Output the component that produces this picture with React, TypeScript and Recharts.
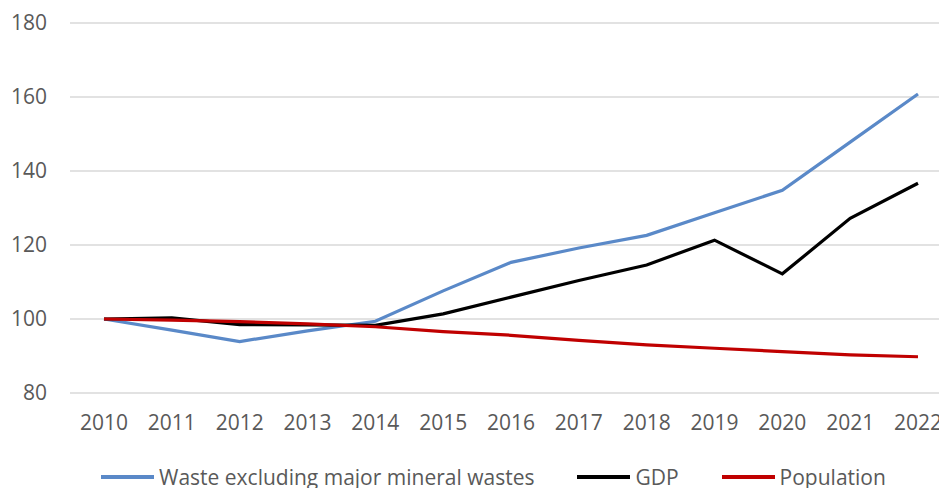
import React from 'react';
import { LineChart, Line, XAxis, YAxis, CartesianGrid } from 'recharts';

const years = ['2010', '2011', '2012', '2013', '2014', '2015', '2016', '2017', '2018', '2019', '2020', '2021', '2022'];
const waste = [100, 97, 93.9, 96.8, 99.4, 107.6, 115.3, 119.2, 122.6, 128.7, 134.8, 147.8, 160.8];
const gdp = [100, 100.3, 98.5, 98.4, 98.3, 101.4, 105.9, 110.4, 114.6, 121.3, 112.2, 127.2, 136.7];
const population = [100, 99.7, 99.3, 98.7, 97.9, 96.6, 95.6, 94.2, 93.0, 92.1, 91.2, 90.3, 89.8];
const yTicks = [80, 100, 120, 140, 160, 180];

const seriesNames = ['Waste excluding major mineral wastes', 'GDP', 'Population'];
const seriesColors = ['#5a89c8', '#000000', '#c00000'];

const data = years.map((year, i) => ({
  year,
  waste: waste[i],
  gdp: gdp[i],
  population: population[i],
}));

const keys = ['waste', 'gdp', 'population'];
const font = '"Open Sans", sans-serif';

export default function App() {
  return (
    <div
      style={{
        position: 'fixed',
        left: 0,
        top: 0,
        width: 939,
        height: 488,
        overflow: 'hidden',
        background: '#fff',
        fontFamily: font,
      }}
    >
      <LineChart width={960} height={488} data={data} margin={{ top: 23, right: 8, bottom: 65, left: 0 }}>
        <CartesianGrid vertical={false} stroke="#d9d9d9" strokeWidth={1.5} />
        <XAxis
          dataKey="year"
          axisLine={false}
          tickLine={false}
          height={30}
          tickMargin={16}
          padding={{ left: 34, right: 34 }}
          tick={{ fill: '#595959', fontSize: 21, fontFamily: font }}
          interval={0}
        />
        <YAxis
          domain={[80, 180]}
          ticks={yTicks}
          axisLine={false}
          tickLine={false}
          width={70}
          tickMargin={17}
          tick={{ fill: '#595959', fontSize: 21, fontFamily: font }}
        />
        {keys.map((k, i) => (
          <Line
            key={k}
            type="linear"
            dataKey={k}
            name={seriesNames[i]}
            stroke={seriesColors[i]}
            strokeWidth={3.2}
            dot={false}
            isAnimationActive={false}
          />
        ))}
      </LineChart>
      <div
        style={{
          position: 'absolute',
          left: 101,
          top: 463,
          display: 'flex',
          alignItems: 'center',
          whiteSpace: 'nowrap',
          color: '#595959',
          fontSize: 21,
          lineHeight: '28px',
        }}
      >
        {seriesNames.map((name, i) => (
          <div key={name} style={{ display: 'flex', alignItems: 'center', marginRight: 43 }}>
            <div style={{ width: 53, height: 3.5, background: seriesColors[i], marginRight: 5 }} />
            <span>{name}</span>
          </div>
        ))}
      </div>
    </div>
  );
}
